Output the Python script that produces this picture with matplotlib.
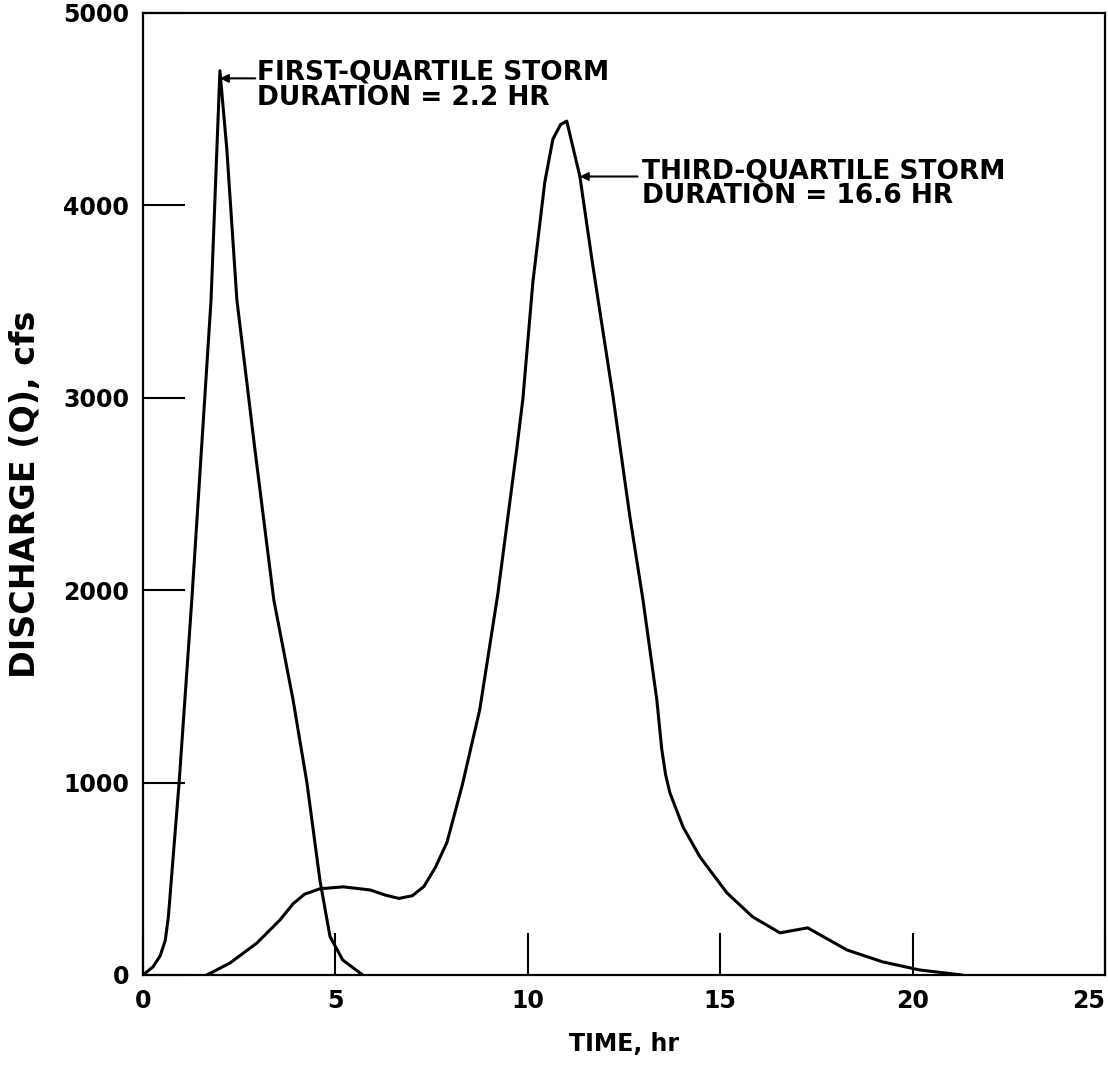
import numpy as np
import matplotlib.pyplot as plt

# first-quartile storm hydrograph (time hr, discharge cfs)
t_first = [0, 0.26, 0.45, 0.58, 0.66, 0.74, 0.84, 0.94, 1.27, 1.77, 2.0,
           2.18, 2.44, 2.91, 3.40, 3.90, 4.26, 4.60, 4.86, 5.19, 5.71]
q_first = [0, 42, 100, 180, 300, 500, 750, 1000, 1950, 3510, 4700,
           4290, 3510, 2730, 1950, 1430, 1000, 490, 200, 78, 0]

# third-quartile storm hydrograph
t_third = [1.66, 2.26, 2.96, 3.56, 3.9, 4.2, 4.6, 5.2, 5.9, 6.3, 6.65,
           7.0, 7.3, 7.6, 7.9, 8.3, 8.75, 9.22, 9.71, 9.87, 10.13,
           10.44, 10.65, 10.85, 11.01, 11.35, 11.69, 12.21, 12.65, 12.99,
           13.35, 13.48, 13.58, 13.69, 14.03, 14.47, 15.17, 15.84, 16.55,
           17.27, 18.29, 19.22, 20.18, 21.27]
q_third = [0, 62, 166, 286, 370, 420, 448, 458, 442, 415, 398,
           412, 460, 560, 690, 990, 1379, 1980, 2731, 2992, 3600,
           4121, 4344, 4420, 4438, 4152, 3684, 3010, 2383, 1951,
           1431, 1171, 1040, 947, 770, 614, 427, 302, 219,
           245, 130, 68, 26, 0]

x_ticks = [0, 5, 10, 15, 20, 25]
y_ticks = [0, 1000, 2000, 3000, 4000, 5000]

labels = ["FIRST-QUARTILE STORM\nDURATION = 2.2 HR",
          "THIRD-QUARTILE STORM\nDURATION = 16.6 HR"]

fig = plt.figure(figsize=(11.08, 10.70), dpi=100)
ax = fig.add_axes([0.129, 0.0888, 0.8685, 0.8991])

ax.plot(t_first, q_first, c='k', lw=2.2)
ax.plot(t_third, q_third, c='k', lw=2.2)

ax.set_xlim(0, 25)
ax.set_ylim(0, 5000)
ax.set_xticks(x_ticks)
ax.set_yticks(y_ticks)
for s in ax.spines.values():
    s.set_linewidth(1.6)
ax.tick_params(direction='in', length=30, width=1.5, labelsize=17, pad=10)
for lab in ax.get_xticklabels() + ax.get_yticklabels():
    lab.set_fontweight('bold')
ax.get_xticklabels()[-1].set_horizontalalignment('right')

ax.set_xlabel("TIME, hr", fontsize=17, fontweight='bold', labelpad=14)
ax.set_ylabel("DISCHARGE (Q), cfs", fontsize=24, fontweight='bold', labelpad=15)

arrow = dict(arrowstyle='-|>', color='k', lw=1.5, mutation_scale=12,
             shrinkA=0, shrinkB=0)
ax.annotate('', xy=(2.0, 4660), xytext=(2.92, 4660), arrowprops=arrow)
ax.text(2.96, 4625, labels[0], fontsize=19, fontweight='bold',
        va='center', ha='left', linespacing=0.95)
ax.annotate('', xy=(11.35, 4150), xytext=(12.85, 4150), arrowprops=arrow)
ax.text(12.96, 4113, labels[1], fontsize=19, fontweight='bold',
        va='center', ha='left', linespacing=0.95)

fig.savefig("out.png", dpi=100)
